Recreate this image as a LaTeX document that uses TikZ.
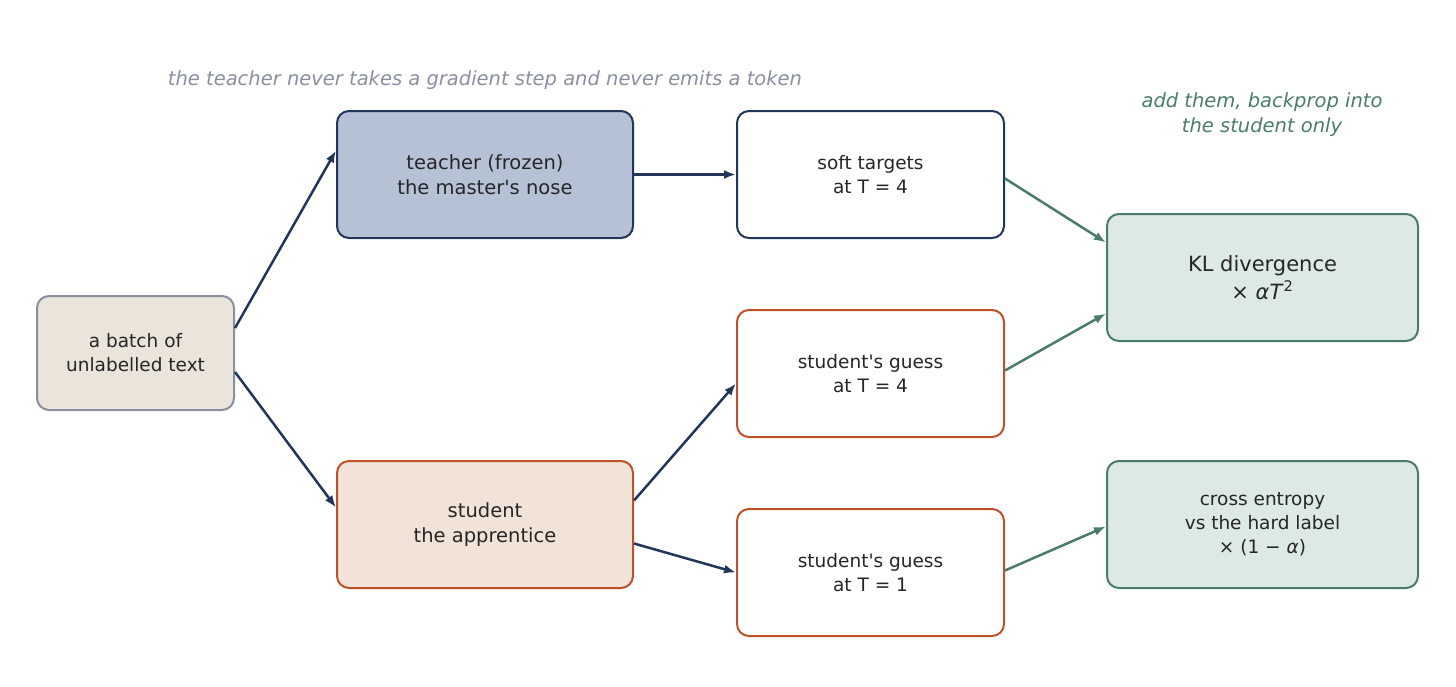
\documentclass[tikz,border=0pt]{standalone}
\usepackage{fontspec}
\setmainfont{DejaVu Sans}
\usetikzlibrary{arrows.meta}
\definecolor{navy}{HTML}{22365A}
\definecolor{rust}{HTML}{BF512A}
\definecolor{sage}{HTML}{4A7C6B}
\definecolor{slate}{HTML}{8A8FA0}
\definecolor{sand}{HTML}{EAE4DA}
\definecolor{mist}{HTML}{B5C2D6}
\definecolor{peach}{HTML}{F1E3D8}
\definecolor{mint}{HTML}{DDE9E3}
\tikzset{
  box/.style={draw, rounded corners=12pt, line width=2pt, align=center, inner sep=0pt,
    font=\fontsize{19.5}{25}\selectfont, text=black!85},
  small/.style={font=\fontsize{18.5}{24}\selectfont},
  link/.style={-{Latex[length=12pt,width=9pt]}, line width=2.5pt},
  note/.style={font=\fontsize{19.5}{25}\selectfont\itshape, align=center}
}
\begin{document}
\begin{tikzpicture}[x=1pt,y=-1pt]
\useasboundingbox (0,0) rectangle (1456,686);

\node[box, small, fill=sand, draw=slate, minimum width=197pt, minimum height=114pt] (batch) at (135.5,353) {a batch of\\unlabelled text};
\node[box, fill=mist, draw=navy, minimum width=296pt, minimum height=127pt] (teacher) at (485,174.5) {teacher (frozen)\\the master\textquotesingle s nose};
\node[box, fill=peach, draw=rust, minimum width=296pt, minimum height=127pt] (student) at (485,524.5) {student\\the apprentice};

\node[box, small, fill=white, draw=navy, minimum width=267pt, minimum height=127pt] (soft) at (870.5,174.5) {soft targets\\at T = 4};
\node[box, small, fill=white, draw=rust, minimum width=267pt, minimum height=127pt] (guessA) at (870.5,373.5) {student\textquotesingle s guess\\at T = 4};
\node[box, small, fill=white, draw=rust, minimum width=267pt, minimum height=127pt] (guessB) at (870.5,572.5) {student\textquotesingle s guess\\at T = 1};

\node[box, fill=mint, draw=sage, minimum width=311pt, minimum height=127pt,
  font=\fontsize{21}{28}\selectfont] (kl) at (1262.5,277.5) {KL divergence\\× \textit{αT}\textsuperscript{2}};
\node[box, small, fill=mint, draw=sage, minimum width=311pt, minimum height=127pt] (ce) at (1262.5,524.5) {cross entropy\\vs the hard label\\× (1 − \textit{α})};

\node[note, text=slate] (top) at (485,80) {the teacher never takes a gradient step and never emits a token};
\node[note, text=sage] (add) at (1262,115) {add them, backprop into\\the student only};

\draw[link, navy] ([yshift=25pt]batch.east) -- ([yshift=24pt]teacher.west);
\draw[link, navy] ([yshift=-19pt]batch.east) -- ([yshift=17pt]student.west);
\draw[link, navy] (teacher.east) -- (soft.west);
\draw[link, navy] ([yshift=24pt]student.east) -- ([yshift=-10pt]guessA.west);
\draw[link, navy] ([yshift=-19pt]student.east) -- (guessB.west);
\draw[link, sage] ([yshift=-4pt]soft.east) -- ([yshift=35pt]kl.west);
\draw[link, sage] ([yshift=3pt]guessA.east) -- ([yshift=-36pt]kl.west);
\draw[link, sage] ([yshift=2pt]guessB.east) -- ([yshift=-2pt]ce.west);
\end{tikzpicture}
\end{document}
